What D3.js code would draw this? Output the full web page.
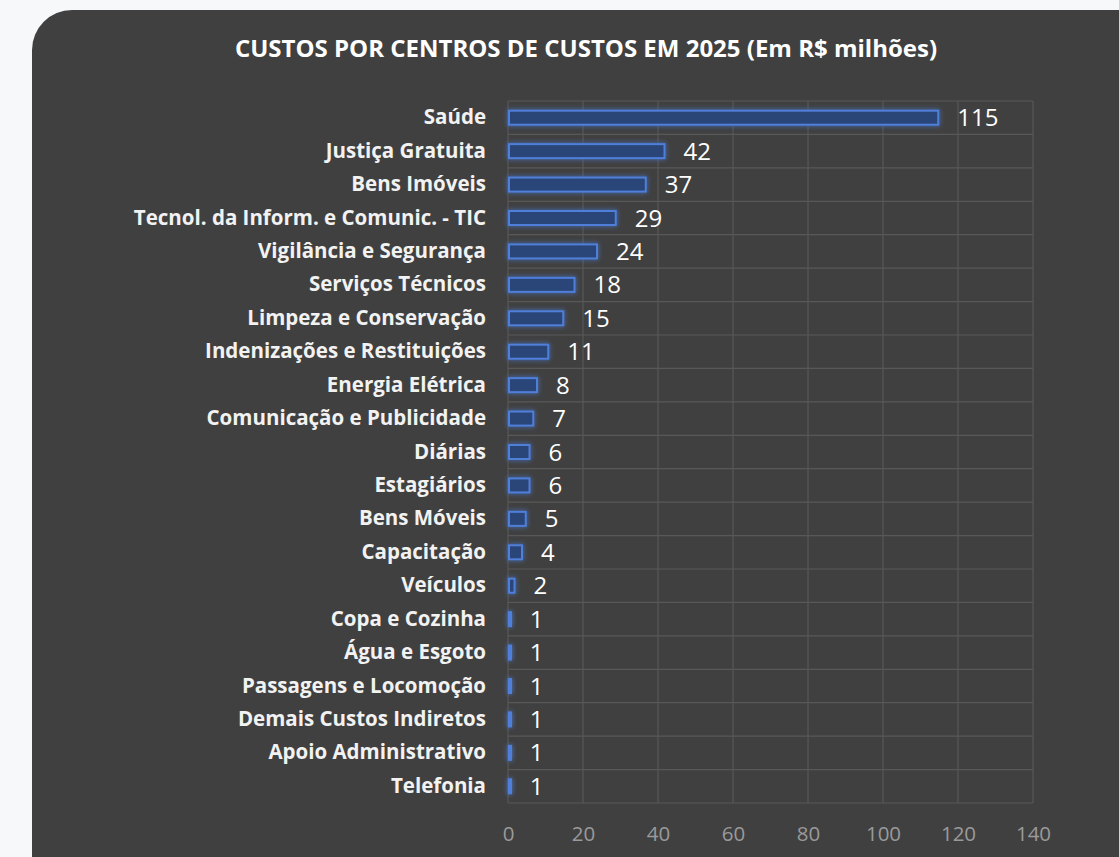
<!DOCTYPE html>
<html>
<head>
<meta charset="utf-8">
<script src="https://cdn.jsdelivr.net/npm/d3@7"></script>
<style>
html,body{margin:0;padding:0;background:#f7f8fa;}
svg{display:block;}
</style>
</head>
<body>
<svg id="chart" width="1119" height="857"></svg>
<script>
const title = "CUSTOS POR CENTROS DE CUSTOS EM 2025 (Em R$ milhões)";
const categories = ["Saúde","Justiça Gratuita","Bens Imóveis","Tecnol. da Inform. e Comunic. - TIC","Vigilância e Segurança","Serviços Técnicos","Limpeza e Conservação","Indenizações e Restituições","Energia Elétrica","Comunicação e Publicidade","Diárias","Estagiários","Bens Móveis","Capacitação","Veículos","Copa e Cozinha","Água e Esgoto","Passagens e Locomoção","Demais Custos Indiretos","Apoio Administrativo","Telefonia"];
const values = [115,42,37,29,24,18,15,11,8,7,6,6,5,4,2,1,1,1,1,1,1];
const xTicks = [0,20,40,60,80,100,120,140];

const svg = d3.select("#chart");
const font = "'Open Sans', sans-serif";

// card
svg.append("rect").attr("x",32).attr("y",10).attr("width",1140).attr("height",900)
  .attr("rx",40).attr("fill","#404040");

const defs = svg.append("defs");
const f = defs.append("filter").attr("id","glow").attr("x","-50%").attr("y","-100%").attr("width","200%").attr("height","300%");
f.append("feGaussianBlur").attr("in","SourceGraphic").attr("stdDeviation",2.5).attr("result","b");
const m = f.append("feMerge");
m.append("feMergeNode").attr("in","b");
m.append("feMergeNode").attr("in","SourceGraphic");

const x = d3.scaleLinear().domain([0,140]).range([508,1033]);
const yRow = d3.scaleBand().domain(categories).range([101,803]);

svg.append("text").attr("x",586).attr("y",57).attr("text-anchor","middle")
  .attr("font-family",font).attr("font-weight","bold").attr("font-size",24)
  .attr("fill","#ffffff").text(title);

// grid
const grid = svg.append("g").attr("stroke","#585858").attr("stroke-width",1.2);
grid.selectAll("line.v").data(xTicks).join("line").attr("class","v")
  .attr("x1",d=>x(d)).attr("x2",d=>x(d)).attr("y1",101).attr("y2",803);
const bounds = categories.map(c=>yRow(c)).concat([803]);
grid.selectAll("line.h").data(bounds).join("line").attr("class","h")
  .attr("x1",x(0)).attr("x2",x(140)).attr("y1",d=>d).attr("y2",d=>d);

// x axis labels
const xAxis = d3.axisBottom(x).tickValues(xTicks).tickSize(0).tickPadding(0);
const gx = svg.append("g").attr("transform","translate(0,826)").call(xAxis);
gx.select(".domain").remove();
gx.selectAll("text").attr("font-family",font).attr("font-size",20.5).attr("fill","#9a9a9a");

// y axis labels
const yAxis = d3.axisLeft(yRow).tickSize(0).tickPadding(0);
const gy = svg.append("g").attr("transform","translate(486,0)").call(yAxis);
gy.select(".domain").remove();
gy.selectAll("text").attr("font-family",font).attr("font-weight","bold").attr("font-size",20.5).attr("fill","#f2f2f2");

// bars
svg.append("g").attr("filter","url(#glow)").selectAll("rect").data(values).join("rect")
  .attr("x",x(0)+1).attr("y",(d,i)=>yRow(categories[i])+yRow.bandwidth()/2-7)
  .attr("width",d=>Math.max(x(d)-x(0)-2,2)).attr("height",14)
  .attr("fill","#2b4577").attr("stroke","#4f7fd8").attr("stroke-width",2);

// value labels
svg.append("g").selectAll("text").data(values).join("text")
  .attr("x",d=>x(d)+18).attr("y",(d,i)=>yRow(categories[i])+yRow.bandwidth()/2)
  .attr("dy","0.36em").attr("font-family",font).attr("font-size",24).attr("fill","#ffffff")
  .text(d=>d);
</script>
</body>
</html>
